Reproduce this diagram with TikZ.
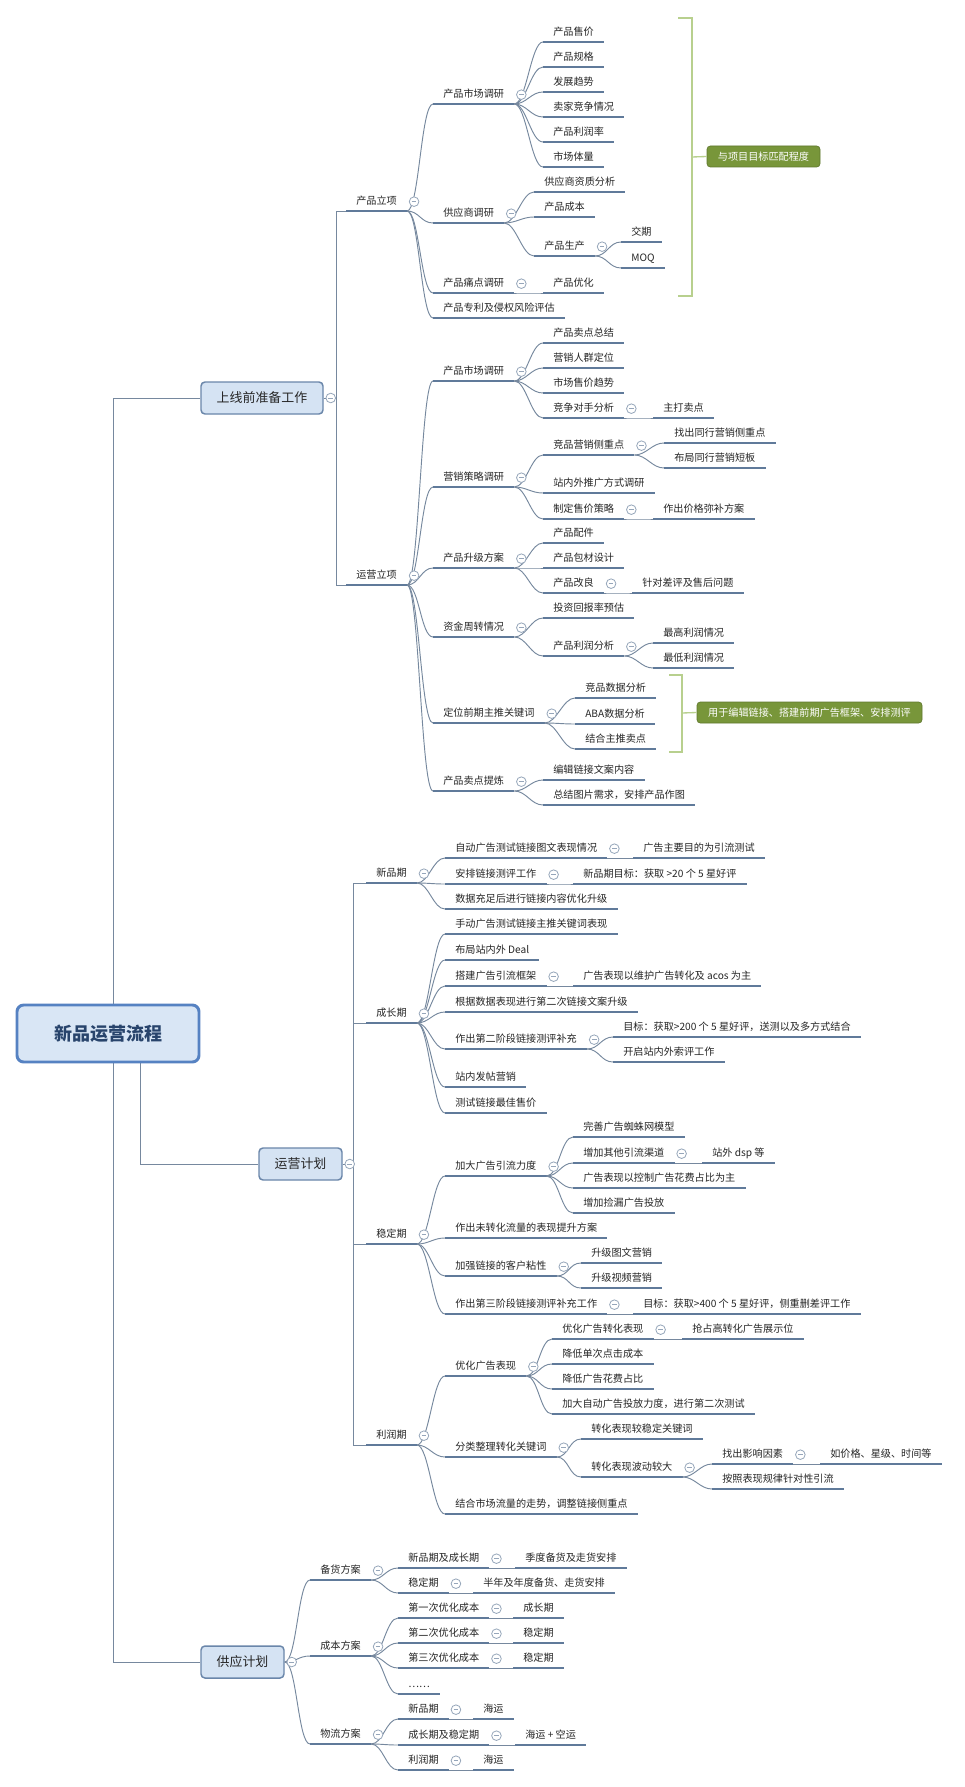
\documentclass[tikz,border=0pt]{standalone}
\usepackage{fontspec}
\setmainfont{Noto Sans CJK SC}
\definecolor{txt}{RGB}{38,38,38}
\definecolor{ulc}{RGB}{96,122,154}
\definecolor{cnc}{RGB}{118,136,158}
\definecolor{ccc}{RGB}{150,166,186}
\definecolor{mfill}{RGB}{213,227,243}
\definecolor{mdraw}{RGB}{106,134,170}
\definecolor{rfill}{RGB}{217,230,245}
\definecolor{rdraw}{RGB}{86,130,194}
\definecolor{rtxt}{RGB}{40,68,108}
\definecolor{gfill}{RGB}{120,150,58}
\definecolor{gline}{RGB}{184,208,142}
\begin{document}
\begin{tikzpicture}[x=0.75pt,y=-0.75pt,
  uline/.style={draw=ulc, line width=2pt},
  lf/.style={anchor=south west, inner xsep=7.5pt, inner ysep=3pt, text height=6pt, text depth=1.6pt,
    font=\fontsize{7.6pt}{9pt}\selectfont, text=txt,
    append after command={(\tikzlastnode.south west) edge[uline] (\tikzlastnode.south east)}},
  conn/.style={draw=cnc, line width=0.7pt},
  mainbox/.style={draw=mdraw, fill=mfill, line width=1.1pt, rounded corners=3pt, minimum height=24pt,
    inner sep=0pt, font=\fontsize{9.7pt}{11pt}\selectfont, text=txt},
  rootbox/.style={draw=rdraw, fill=rfill, line width=2.2pt, rounded corners=5pt, minimum width=136.5pt,
    minimum height=42.75pt, font=\fontsize{13.5pt}{15pt}\selectfont\bfseries, text=rtxt},
  gbox/.style={fill=gfill, draw=gfill!80!black, rounded corners=2.5pt, line width=0.5pt, minimum height=15.75pt,
    inner sep=0pt, text=white, font=\fontsize{7.6pt}{9pt}\selectfont},
  brk/.style={draw=gline, line width=2.2pt},
  brkstub/.style={draw=gline, line width=1pt},
  ccirc/.style={draw=ccc, fill=white, line width=0.6pt},
  cminus/.style={draw=ccc, line width=0.6pt}]
\useasboundingbox (0,0) rectangle (964,1787);
\fill[white] (0,0) rectangle (964,1787);

% main boxes
\node[mainbox, minimum width=91.5pt] (m1) at (262,398) {上线前准备工作};
\node[mainbox, minimum width=62.25pt] (m2) at (300.5,1164) {运营计划};
\node[mainbox, minimum width=62.25pt] (m3) at (242.5,1662) {供应计划};

% root connectors
\coordinate (ra) at (113,1033);
\coordinate (rb) at (140,1033);
\draw[conn] (ra) |- (m1.west);
\draw[conn] (ra) |- (m3.west);
\draw[conn] (rb) |- (m2.west);
\node[rootbox] (root) at (108,1033.5) {新品运营流程};

% ===== Section A
\node[lf] (A1) at (346,211) {产品立项};
\node[lf] (A11) at (433,104) {产品市场调研};
\node[lf] (A111) at (543,42) {产品售价};
\node[lf] (A112) at (543,67) {产品规格};
\node[lf] (A113) at (543,92) {发展趋势};
\node[lf] (A114) at (543,117) {卖家竞争情况};
\node[lf] (A115) at (543,142) {产品利润率};
\node[lf] (A116) at (543,167) {市场体量};
\node[lf] (A12) at (433,223) {供应商调研};
\node[lf] (A121) at (534,192) {供应商资质分析};
\node[lf] (A122) at (534,217) {产品成本};
\node[lf] (A123) at (534,256) {产品生产};
\node[lf] (A1231) at (621,242) {交期};
\node[lf] (A1232) at (621,268) {MOQ};
\node[lf] (A13) at (433,293) {产品痛点调研};
\node[lf] (A131) at (543,293) {产品优化};
\node[lf] (A14) at (433,318) {产品专利及侵权风险评估};

\node[lf] (A2) at (346,585) {运营立项};
\node[lf] (A21) at (433,381) {产品市场调研};
\node[lf] (A211) at (543,343) {产品卖点总结};
\node[lf] (A212) at (543,368) {营销人群定位};
\node[lf] (A213) at (543,393) {市场售价趋势};
\node[lf] (A214) at (543,418) {竞争对手分析};
\node[lf] (A2141) at (653,418) {主打卖点};
\node[lf] (A22) at (433,487) {营销策略调研};
\node[lf] (A221) at (543,455) {竞品营销侧重点};
\node[lf] (A2211) at (664,443) {找出同行营销侧重点};
\node[lf] (A2212) at (664,468) {布局同行营销短板};
\node[lf] (A222) at (543,493) {站内外推广方式调研};
\node[lf] (A223) at (543,519) {制定售价策略};
\node[lf] (A2231) at (653,519) {作出价格弥补方案};
\node[lf] (A23) at (433,568) {产品升级方案};
\node[lf] (A231) at (543,543) {产品配件};
\node[lf] (A232) at (543,568) {产品包材设计};
\node[lf] (A233) at (543,593) {产品改良};
\node[lf] (A2331) at (632,593) {针对差评及售后问题};
\node[lf] (A24) at (433,637) {资金周转情况};
\node[lf] (A241) at (543,618) {投资回报率预估};
\node[lf] (A242) at (543,656) {产品利润分析};
\node[lf] (A2421) at (653,643) {最高利润情况};
\node[lf] (A2422) at (653,668) {最低利润情况};
\node[lf] (A25) at (433,723) {定位前期主推关键词};
\node[lf] (A251) at (575,698) {竞品数据分析};
\node[lf] (A252) at (575,724) {ABA数据分析};
\node[lf] (A253) at (575,749) {结合主推卖点};
\node[lf] (A26) at (433,791) {产品卖点提炼};
\node[lf] (A261) at (543,780) {编辑链接文案内容};
\node[lf] (A262) at (543,805) {总结图片需求，安排产品作图};

% brackets and green labels
\node[gbox, minimum width=84.75pt] (G1) at (763.5,156.5) {与项目目标匹配程度};
\node[gbox, minimum width=168.75pt] (G2) at (809.5,712.5) {用于编辑链接、搭建前期广告框架、安排测评};
\draw[brk] (678,18) -- (692,18) -- (692,296) -- (678,296);
\coordinate (bk1) at (692,157);
\draw[brkstub] (bk1) -- (G1.west);
\draw[brk] (669,675) -- (682,675) -- (682,752) -- (669,752);
\coordinate (bk2) at (682,713);
\draw[brkstub] (bk2) -- (G2.west);

% ===== Section B
\node[lf] (B1) at (366,883) {新品期};
\node[lf] (B11) at (445,858) {自动广告测试链接图文表现情况};
\node[lf] (B111) at (633,858) {广告主要目的为引流测试};
\node[lf] (B12) at (445,884) {安排链接测评工作};
\node[lf] (B121) at (573,884) {新品期目标：获取 >20 个 5 星好评};
\node[lf] (B13) at (445,909) {数据充足后进行链接内容优化升级};
\node[lf] (B2) at (366,1023) {成长期};
\node[lf] (B21) at (445,934) {手动广告测试链接主推关键词表现};
\node[lf] (B22) at (445,960) {布局站内外 Deal};
\node[lf] (B23) at (445,986) {搭建广告引流框架};
\node[lf] (B231) at (573,986) {广告表现以维护广告转化及 acos 为主};
\node[lf] (B24) at (445,1012) {根据数据表现进行第二次链接文案升级};
\node[lf] (B25) at (445,1049) {作出第二阶段链接测评补充};
\node[lf] (B251) at (613,1037) {目标：获取>200 个 5 星好评，送测以及多方式结合};
\node[lf] (B252) at (613,1062) {开启站内外索评工作};
\node[lf] (B26) at (445,1087) {站内发帖营销};
\node[lf] (B27) at (445,1113) {测试链接最佳售价};
\node[lf] (B3) at (366,1244) {稳定期};
\node[lf] (B31) at (445,1176) {加大广告引流力度};
\node[lf] (B311) at (573,1137) {完善广告蜘蛛网模型};
\node[lf] (B312) at (573,1163) {增加其他引流渠道};
\node[lf] (B3121) at (702,1163) {站外 dsp 等};
\node[lf] (B313) at (573,1188) {广告表现以控制广告花费占比为主};
\node[lf] (B314) at (573,1213) {增加捡漏广告投放};
\node[lf] (B32) at (445,1238) {作出未转化流量的表现提升方案};
\node[lf] (B33) at (445,1276) {加强链接的客户粘性};
\node[lf] (B331) at (581,1263) {升级图文营销};
\node[lf] (B332) at (581,1288) {升级视频营销};
\node[lf] (B34) at (445,1314) {作出第三阶段链接测评补充工作};
\node[lf] (B341) at (633,1314) {目标：获取>400 个 5 星好评，侧重删差评工作};
\node[lf] (B4) at (366,1445) {利润期};
\node[lf] (B41) at (445,1376) {优化广告表现};
\node[lf] (B411) at (552,1339) {优化广告转化表现};
\node[lf] (B4111) at (682,1339) {抢占高转化广告展示位};
\node[lf] (B412) at (552,1364) {降低单次点击成本};
\node[lf] (B413) at (552,1389) {降低广告花费占比};
\node[lf] (B414) at (552,1414) {加大自动广告投放力度，进行第二次测试};
\node[lf] (B42) at (445,1457) {分类整理转化关键词};
\node[lf] (B421) at (581,1439) {转化表现较稳定关键词};
\node[lf] (B422) at (581,1477) {转化表现波动较大};
\node[lf] (B4221) at (712,1464) {找出影响因素};
\node[lf] (B42211) at (820,1464) {如价格、星级、时间等};
\node[lf] (B4222) at (712,1489) {按照表现规律针对性引流};
\node[lf] (B43) at (445,1514) {结合市场流量的走势，调整链接侧重点};

% ===== Section C
\node[lf] (C1) at (310,1580) {备货方案};
\node[lf] (C11) at (398,1568) {新品期及成长期};
\node[lf] (C111) at (515,1568) {季度备货及走货安排};
\node[lf] (C12) at (398,1593) {稳定期};
\node[lf] (C121) at (473,1593) {半年及年度备货、走货安排};
\node[lf] (C2) at (310,1656) {成本方案};
\node[lf] (C21) at (398,1618) {第一次优化成本};
\node[lf] (C211) at (513,1618) {成长期};
\node[lf] (C22) at (398,1643) {第二次优化成本};
\node[lf] (C221) at (513,1643) {稳定期};
\node[lf] (C23) at (398,1668) {第三次优化成本};
\node[lf] (C231) at (513,1668) {稳定期};
\node[lf] (C24) at (398,1694) {……};
\node[lf] (C3) at (310,1744) {物流方案};
\node[lf] (C31) at (398,1719) {新品期};
\node[lf] (C311) at (473,1719) {海运};
\node[lf] (C32) at (398,1745) {成长期及稳定期};
\node[lf] (C321) at (515,1745) {海运 + 空运};
\node[lf] (C33) at (398,1770) {利润期};
\node[lf] (C331) at (473,1770) {海运};

% elbow connectors from main boxes
\coordinate (j1) at (336,398);
\draw[conn] (m1.east) -- (j1);
\draw[conn] (j1) |- (A1.south west);
\draw[conn] (j1) |- (A2.south west);
\coordinate (j2) at (353,1164);
\draw[conn] (m2.east) -- (j2);
\foreach \c in {B1,B2,B3,B4} \draw[conn] (j2) |- (\c.south west);
\foreach \c in {C1,C2,C3} \draw[conn] (m3.east) .. controls +(12,0) and +(-12,0) .. (\c.south west);

% curved connectors
\foreach \p/\c in {A1/A11,A1/A12,A1/A13,A1/A14,
  A11/A111,A11/A112,A11/A113,A11/A114,A11/A115,A11/A116,
  A12/A121,A12/A122,A12/A123,A123/A1231,A123/A1232,A13/A131,
  A2/A21,A2/A22,A2/A23,A2/A24,A2/A25,A2/A26,
  A21/A211,A21/A212,A21/A213,A21/A214,A214/A2141,
  A22/A221,A22/A222,A22/A223,A221/A2211,A221/A2212,A223/A2231,
  A23/A231,A23/A232,A23/A233,A233/A2331,
  A24/A241,A24/A242,A242/A2421,A242/A2422,
  A25/A251,A25/A252,A25/A253,A26/A261,A26/A262,
  B1/B11,B1/B12,B1/B13,B11/B111,B12/B121,
  B2/B21,B2/B22,B2/B23,B2/B24,B2/B25,B2/B26,B2/B27,B23/B231,B25/B251,B25/B252,
  B3/B31,B3/B32,B3/B33,B3/B34,B31/B311,B31/B312,B31/B313,B31/B314,B312/B3121,
  B33/B331,B33/B332,B34/B341,
  B4/B41,B4/B42,B4/B43,B41/B411,B41/B412,B41/B413,B41/B414,B411/B4111,
  B42/B421,B42/B422,B422/B4221,B422/B4222,B4221/B42211,
  C1/C11,C1/C12,C11/C111,C12/C121,
  C2/C21,C2/C22,C2/C23,C2/C24,C21/C211,C22/C221,C23/C231,
  C3/C31,C3/C32,C3/C33,C31/C311,C32/C321,C33/C331}
  \draw[conn] (\p.south east) .. controls +(12,0) and +(-12,0) .. (\c.south west);

% collapse circles
\foreach \n in {m1,m2,m3,A1,A11,A12,A123,A13,A2,A21,A214,A22,A221,A223,A23,A233,A24,A242,A25,A26,
  B1,B11,B12,B2,B23,B25,B3,B31,B312,B33,B34,B4,B41,B411,B42,B422,B4221,
  C1,C11,C12,C2,C21,C22,C23,C3,C31,C32,C33}
{
  \draw[ccirc] ([xshift=5.25pt]\n.east) circle (3.6pt);
  \draw[cminus] ([xshift=3.45pt]\n.east) -- ([xshift=7.05pt]\n.east);
}
\end{tikzpicture}
\end{document}
